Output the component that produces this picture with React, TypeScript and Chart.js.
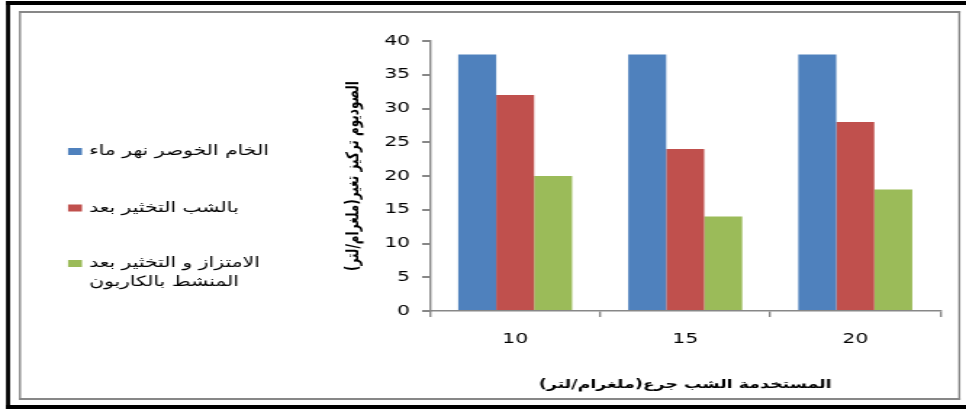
import React, { useEffect, useRef } from "react";
import { Chart, registerables } from "chart.js";

Chart.register(...registerables);

// ---- data ----
const categories = ["10", "15", "20"];
const seriesNames = [
  "الخام الخوصر نهر ماء",
  "بالشب التخثير بعد",
  "الامتزاز و التخثير بعد\nالمنشط بالكاربون",
];
const rawRiverWater = [38, 38, 38];
const afterAlum = [32, 24, 28];
const afterAlumAndCarbon = [20, 14, 18];
const seriesColors = ["#4F81BD", "#C0504D", "#9BBB59"];
const yMin = 0;
const yMax = 40;
const yStep = 5;
const xAxisTitle = "المستخدمة الشب جرع(ملغرام/لتر)";
const yAxisTitle = "الصوديوم تركيز تغير(ملغرام/لتر)";

// ---- layout (target pixels, canvas is stretched horizontally) ----
const W = 966;
const H = 409;
const SX = 1.45;
const CW = Math.round(W / SX);
const sx = (x: number) => x / SX;
const GREY = "#878787";
const FONT = '"DejaVu Sans", "Liberation Sans", sans-serif';

const framePlugin = {
  id: "frame",
  beforeDraw(chart: any) {
    const ctx = chart.ctx as CanvasRenderingContext2D;
    ctx.save();
    ctx.fillStyle = "#ffffff";
    ctx.fillRect(0, 0, CW, H);
    ctx.fillStyle = "#000000";
    ctx.fillRect(sx(6), 1, CW - sx(6), 4);
    ctx.fillRect(sx(6), 1, sx(4), H - 1);
    ctx.fillRect(sx(6), 405, CW - sx(6), 4);
    ctx.fillStyle = GREY;
    ctx.fillRect(sx(19), 11, sx(960) - sx(19), 2);
    ctx.fillRect(sx(19), 398, sx(960) - sx(19), 2);
    ctx.fillRect(sx(19), 11, sx(2), 389);
    ctx.fillRect(sx(958), 11, sx(2), 389);
    ctx.restore();
  },
};

const legendPlugin = {
  id: "sideLegend",
  afterDraw(chart: any) {
    const ctx = chart.ctx as CanvasRenderingContext2D;
    const rows = [151.5, 208, 263.5];
    ctx.save();
    (ctx as any).direction = "rtl";
    ctx.font = `14px ${FONT}`;
    ctx.textBaseline = "middle";
    ctx.textAlign = "left";
    chart.data.datasets.forEach((ds: any, i: number) => {
      const y = rows[i];
      ctx.fillStyle = ds.backgroundColor;
      ctx.fillRect(sx(68), y - 3.5, sx(14), 7);
      ctx.fillStyle = "#000000";
      String(ds.label)
        .split("\n")
        .forEach((line, j) => ctx.fillText(line, sx(89), y + j * 19));
    });
    ctx.restore();
  },
};

export default function App() {
  const ref = useRef<HTMLCanvasElement | null>(null);

  useEffect(() => {
    if (!ref.current) return;
    const seriesData = [rawRiverWater, afterAlum, afterAlumAndCarbon];
    const titleSize = 12;
    const titleLH = titleSize * 1.2;
    const plotLeft = sx(430);
    const plotRight = sx(940);
    const plotTop = 41;
    const plotBottom = 311;
    const yTitleCenter = sx(353);
    const yScaleLeft = yTitleCenter - titleLH / 2;
    const xTitleCenter = 384.5;
    const xScaleBottom = xTitleCenter + titleLH / 2;

    const chart = new Chart(ref.current, {
      type: "bar",
      data: {
        labels: categories,
        datasets: seriesData.map((d, i) => ({
          label: seriesNames[i],
          data: d,
          backgroundColor: seriesColors[i],
          borderWidth: 0,
          categoryPercentage: 0.67,
          barPercentage: 1,
        })),
      },
      options: {
        animation: false,
        responsive: false,
        maintainAspectRatio: false,
        layout: {
          padding: {
            left: yScaleLeft,
            right: CW - plotRight,
            top: plotTop,
            bottom: H - xScaleBottom,
          },
        },
        plugins: {
          legend: { display: false },
          tooltip: { enabled: false },
        },
        scales: {
          x: {
            grid: {
              display: true,
              drawOnChartArea: false,
              drawTicks: true,
              tickLength: 6,
              color: GREY,
              lineWidth: sx(2),
            },
            border: { display: true, color: GREY, width: 1.5 },
            ticks: {
              font: { family: FONT, size: 14 },
              color: "#000000",
              padding: 14,
            },
            title: {
              display: true,
              text: xAxisTitle,
              font: { family: FONT, size: titleSize, weight: "bold" },
              color: "#000000",
              padding: 0,
            },
            afterFit: (s: any) => {
              s.height = xScaleBottom - plotBottom;
            },
          },
          y: {
            min: yMin,
            max: yMax,
            ticks: {
              stepSize: yStep,
              font: { family: FONT, size: 14 },
              color: "#000000",
              padding: sx(12),
            },
            grid: {
              display: true,
              drawOnChartArea: false,
              drawTicks: true,
              tickLength: sx(8),
              color: GREY,
              lineWidth: 2,
            },
            border: { display: true, color: GREY, width: sx(2) },
            title: {
              display: true,
              text: yAxisTitle,
              font: { family: FONT, size: titleSize, weight: "bold" },
              color: "#000000",
              padding: 0,
            },
            afterFit: (s: any) => {
              s.width = plotLeft - yScaleLeft;
            },
          },
        },
      } as any,
      plugins: [framePlugin, legendPlugin],
    });
    return () => chart.destroy();
  }, []);

  return (
    <div
      style={{
        position: "fixed",
        left: 0,
        top: 0,
        width: W,
        height: H,
        background: "#ffffff",
      }}
    >
      <canvas
        ref={ref}
        width={CW}
        height={H}
        style={{ width: `${W}px`, height: `${H}px`, direction: "rtl", display: "block" }}
      />
    </div>
  );
}
